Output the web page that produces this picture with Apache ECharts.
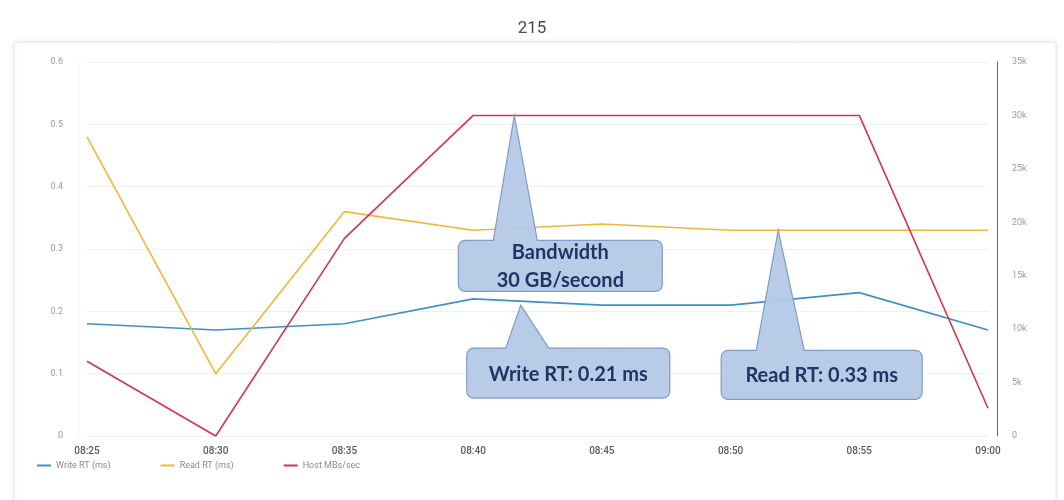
<!DOCTYPE html>
<html>
<head>
<meta charset="utf-8">
<script src="https://cdn.jsdelivr.net/npm/echarts@6/dist/echarts.min.js"></script>
<style>
  html, body { margin: 0; padding: 0; background: #ffffff; }
  #chart { width: 1064px; height: 500px; }
</style>
</head>
<body>
<div id="chart"></div>
<script>
// Sample times on the x axis
const times = ['08:25', '08:30', '08:35', '08:40', '08:45', '08:50', '08:55', '09:00'];

// Response times (ms), left axis
const writeRT = [0.18, 0.17, 0.18, 0.22, 0.21, 0.21, 0.23, 0.17];
const readRT  = [0.48, 0.10, 0.36, 0.33, 0.34, 0.33, 0.33, 0.33];

// Host throughput (MB/s), right axis
const hostMBs = [7000, 0, 18500, 30000, 30000, 30000, 30000, 2600];

// Axis ranges
const rtMax = 0.6, rtStep = 0.1;
const mbMax = 35000, mbStep = 5000;

// Callout notes: anchored at a (fractional) sample index and a value on one of the y axes
const notes = [
  { lines: ['Bandwidth', '30 GB/second'], at: 3.32, value: 30000, axis: 1 },
  { lines: ['Write RT: 0.21 ms'],         at: 3.37, value: 0.21,  axis: 0 },
  { lines: ['Read RT: 0.33 ms'],          at: 5.37, value: 0.33,  axis: 0 }
];
// Callout geometry relative to the pointer tip
const noteShapes = [
  { dx: -56, dy: 125, w: 204, h: 51, b0: -21, b1: 23 },
  { dx: -54, dy: 43,  w: 203, h: 50, b0: -15, b1: 28 },
  { dx: -57, dy: 120, w: 201, h: 49, b0: -22, b1: 26 }
];

const C_WRITE = '#3f8fc8', C_READ = '#f2b637', C_HOST = '#d5344f';

const chart = echarts.init(document.getElementById('chart'), null, { renderer: 'canvas' });

const option = {
  backgroundColor: '#ffffff',
  animation: false,
  title: {
    text: '215', left: 'center', top: 15,
    textStyle: { fontFamily: 'Roboto', fontSize: 17, fontWeight: 'normal', color: '#4a4a4a' }
  },
  legend: {
    left: 32, top: 456, itemGap: 50, itemWidth: 14, itemHeight: 2, icon: 'rect',
    textStyle: { fontFamily: 'Roboto', fontSize: 9, color: '#8a8a8a' },
    data: ['Write RT (ms)', 'Read RT (ms)', 'Host MBs/sec']
  },
  grid: { left: 87, right: 76, top: 62, bottom: 64 },
  xAxis: {
    type: 'category', data: times, boundaryGap: false,
    axisLine: { show: true, lineStyle: { color: '#f1f1f1' } },
    axisTick: { show: false },
    axisLabel: { margin: 10, fontFamily: 'Roboto', fontSize: 10, fontWeight: 500, color: '#5a5a5a' }
  },
  yAxis: [
    {
      type: 'value', min: 0, max: rtMax, interval: rtStep, offset: 9,
      axisLine: { show: true, lineStyle: { color: '#f1f1f1' } },
      axisTick: { show: false },
      axisLabel: { margin: 15, fontFamily: 'Roboto', fontSize: 9, color: '#9a9a9a' },
      splitLine: { lineStyle: { color: '#efefef' } }
    },
    {
      type: 'value', min: 0, max: mbMax, interval: mbStep, offset: 9, position: 'right',
      axisLine: { show: true, lineStyle: { color: C_HOST, width: 1 } },
      axisTick: { show: false },
      axisLabel: {
        margin: 15, fontFamily: 'Roboto', fontSize: 9, color: '#9a9a9a',
        formatter: v => v === 0 ? '0' : (v / 1000) + 'k'
      },
      splitLine: { show: false }
    }
  ],
  series: [
    { name: 'Write RT (ms)', type: 'line', yAxisIndex: 0, data: writeRT, showSymbol: false,
      lineStyle: { color: C_WRITE, width: 1.6 }, itemStyle: { color: C_WRITE } },
    { name: 'Read RT (ms)', type: 'line', yAxisIndex: 0, data: readRT, showSymbol: false,
      lineStyle: { color: C_READ, width: 1.6 }, itemStyle: { color: C_READ } },
    { name: 'Host MBs/sec', type: 'line', yAxisIndex: 1, data: hostMBs, showSymbol: false,
      lineStyle: { color: C_HOST, width: 1.6 }, itemStyle: { color: C_HOST } }
  ]
};
chart.setOption(option);

// x pixel for a fractional sample index
function xAt(idx) {
  const i0 = Math.floor(idx), i1 = Math.min(i0 + 1, times.length - 1);
  const p0 = chart.convertToPixel({ xAxisIndex: 0 }, i0);
  const p1 = chart.convertToPixel({ xAxisIndex: 0 }, i1);
  return p0 + (p1 - p0) * (idx - i0);
}

// Outline of a rounded box with a pointer rising from its top edge
function calloutPoints(tx, ty, s) {
  const x0 = tx + s.dx, y0 = ty + s.dy, x1 = x0 + s.w, y1 = y0 + s.h, r = 7;
  const pts = [];
  const arc = (cx, cy, a0, a1) => {
    for (let k = 0; k <= 6; k++) {
      const a = a0 + (a1 - a0) * k / 6;
      pts.push([cx + r * Math.cos(a), cy + r * Math.sin(a)]);
    }
  };
  arc(x0 + r, y0 + r, Math.PI, 1.5 * Math.PI);
  pts.push([tx + s.b0, y0], [tx, ty], [tx + s.b1, y0]);
  arc(x1 - r, y0 + r, 1.5 * Math.PI, 2 * Math.PI);
  arc(x1 - r, y1 - r, 0, 0.5 * Math.PI);
  arc(x0 + r, y1 - r, 0.5 * Math.PI, Math.PI);
  return { pts, cx: (x0 + x1) / 2, cy: (y0 + y1) / 2 };
}

const graphics = [
  {
    type: 'rect', z: -10, silent: true,
    shape: { x: 14, y: 42, width: 1042, height: 480, r: 2 },
    style: { fill: '#ffffff', stroke: '#e6e6e6', lineWidth: 1,
             shadowBlur: 6, shadowColor: 'rgba(0,0,0,0.07)' }
  }
];

notes.forEach((n, i) => {
  const tx = xAt(n.at);
  const ty = chart.convertToPixel({ yAxisIndex: n.axis }, n.value);
  const c = calloutPoints(tx, ty, noteShapes[i]);
  graphics.push({
    type: 'polygon', z: 100, silent: true,
    shape: { points: c.pts },
    style: { fill: 'rgba(182,202,231,0.97)', stroke: '#7f9dc8', lineWidth: 1.2 }
  });
  graphics.push({
    type: 'text', z: 101, silent: true,
    x: c.cx, y: c.cy + 1,
    style: {
      text: n.lines.join('\n'), align: 'center', verticalAlign: 'middle',
      fontFamily: 'Lato', fontWeight: 'bold', fontSize: 20, lineHeight: 28,
      fill: '#1d3666'
    }
  });
});

chart.setOption({ graphic: graphics });
</script>
</body>
</html>
